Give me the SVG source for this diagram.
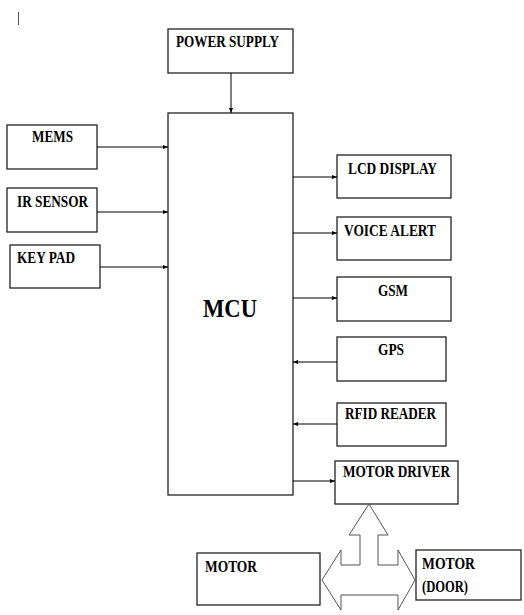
<svg xmlns="http://www.w3.org/2000/svg" width="524" height="615" viewBox="0 0 524 615">
<defs>
<marker id="ah" viewBox="0 0 10 10" refX="10" refY="5" markerWidth="5" markerHeight="5" orient="auto" markerUnits="userSpaceOnUse">
<path d="M0,1 L10,5 L0,9 z" fill="#000"/>
</marker>
<style>
.box{fill:#fff;stroke:#222;stroke-width:1.3}
.t{font-family:"Liberation Serif","Times New Roman",serif;font-weight:bold;font-size:16px;fill:#000}
.big{font-family:"Liberation Serif","Times New Roman",serif;font-weight:bold;font-size:26px;fill:#000}
.c{stroke:#000;stroke-width:1;fill:none;marker-end:url(#ah)}
</style>
</defs>
<rect width="524" height="615" fill="#fff"/>
<line x1="18.5" y1="12" x2="18.5" y2="25" stroke="#555" stroke-width="1"/>
<g id="power"><rect class="box" x="168" y="29" width="125" height="44"/><text class="t" x="176" y="47" textLength="103" lengthAdjust="spacingAndGlyphs">POWER SUPPLY</text></g>
<g id="mcu"><rect class="box" x="168" y="113" width="125" height="382"/><text class="big" x="203" y="317" textLength="54" lengthAdjust="spacingAndGlyphs">MCU</text></g>
<g id="mems"><rect class="box" x="7" y="125" width="90" height="44"/><text class="t" x="32" y="142" textLength="41" lengthAdjust="spacingAndGlyphs">MEMS</text></g>
<g id="ir"><rect class="box" x="7" y="188" width="90" height="44"/><text class="t" x="17" y="207" textLength="71" lengthAdjust="spacingAndGlyphs">IR SENSOR</text></g>
<g id="keypad"><rect class="box" x="10" y="245" width="90" height="43"/><text class="t" x="17" y="263" textLength="58" lengthAdjust="spacingAndGlyphs">KEY PAD</text></g>
<g id="lcd"><rect class="box" x="337" y="155" width="114" height="43"/><text class="t" x="348" y="174" textLength="89" lengthAdjust="spacingAndGlyphs">LCD DISPLAY</text></g>
<g id="voice"><rect class="box" x="337" y="217" width="114" height="43"/><text class="t" x="344" y="236" textLength="92" lengthAdjust="spacingAndGlyphs">VOICE ALERT</text></g>
<g id="gsm"><rect class="box" x="337" y="277" width="114" height="44"/><text class="t" x="378" y="296" textLength="30" lengthAdjust="spacingAndGlyphs">GSM</text></g>
<g id="gps"><rect class="box" x="337" y="337" width="109" height="44"/><text class="t" x="378" y="355" textLength="26" lengthAdjust="spacingAndGlyphs">GPS</text></g>
<g id="rfid"><rect class="box" x="337" y="403" width="109" height="43"/><text class="t" x="345" y="419" textLength="91" lengthAdjust="spacingAndGlyphs">RFID READER</text></g>
<g id="driver"><rect class="box" x="335" y="461" width="123" height="43"/><text class="t" x="343" y="477" textLength="107" lengthAdjust="spacingAndGlyphs">MOTOR DRIVER</text></g>
<g id="motor"><rect class="box" x="197" y="553" width="123" height="52"/><text class="t" x="205" y="572" textLength="52" lengthAdjust="spacingAndGlyphs">MOTOR</text></g>
<g id="door"><rect class="box" x="416" y="550" width="105" height="50"/><text class="t" x="422" y="569" textLength="53" lengthAdjust="spacingAndGlyphs">MOTOR</text><text class="t" x="422" y="592" textLength="46" lengthAdjust="spacingAndGlyphs">(DOOR)</text></g>
<g id="connectors">
<line class="c" x1="231" y1="73" x2="231" y2="113"/>
<line class="c" x1="97" y1="147" x2="168" y2="147"/>
<line class="c" x1="97" y1="212" x2="168" y2="212"/>
<line class="c" x1="100" y1="267" x2="168" y2="267"/>
<line class="c" x1="293" y1="177" x2="337" y2="177"/>
<line class="c" x1="293" y1="233" x2="337" y2="233"/>
<line class="c" x1="293" y1="298" x2="337" y2="298"/>
<line class="c" x1="337" y1="362" x2="293" y2="362"/>
<line class="c" x1="337" y1="424" x2="293" y2="424"/>
<line class="c" x1="293" y1="481" x2="335" y2="481"/>
<polygon points="369,504 388,535 378,535 378,565 398,565 398,550 415,580 398,610 398,595 341,595 341,610 322,580 341,550 341,565 360,565 360,535 349,535" fill="#fff" stroke="#555" stroke-width="1"/>
</g>
</svg>
